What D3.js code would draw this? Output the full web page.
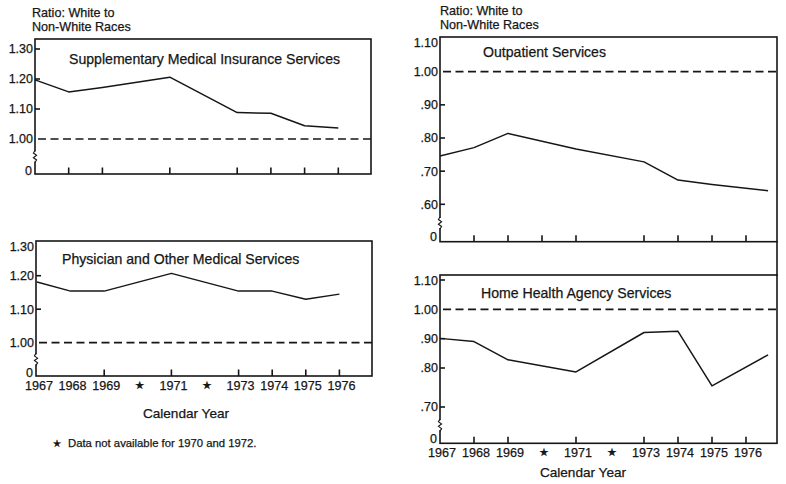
<!DOCTYPE html>
<html><head><meta charset="utf-8">
<script src="https://cdn.jsdelivr.net/npm/d3@7/dist/d3.min.js"></script>
<style>
body{margin:0;background:#fff}
text{font-family:"Liberation Sans",Arial,Helvetica,sans-serif;fill:#161616;stroke:#161616;stroke-width:0.25px}
</style>
</head><body>
<svg id="chart" width="786" height="484"></svg>
<script>
// ---------- data ----------
const yearsLeft  = [1967, 1968, 1969, 1971, 1973, 1974, 1975, 1976];
const yearsRight = [1967, 1968, 1969, 1971, 1973, 1974, 1975, 1976.65];
const smiValues        = [1.197, 1.157, 1.172, 1.206, 1.088, 1.086, 1.044, 1.037];
const physicianValues  = [1.181, 1.154, 1.154, 1.207, 1.154, 1.154, 1.130, 1.145];
const outpatientValues = [0.746, 0.771, 0.814, 0.767, 0.728, 0.673, 0.660, 0.641];
const homeHealthValues = [0.901, 0.890, 0.828, 0.790, 0.921, 0.925, 0.754, 0.845];

const xLabelYears = [1967, 1968, 1969, 1970, 1971, 1972, 1973, 1974, 1975, 1976];
const xLabelTexts = ["1967", "1968", "1969", "\u2605", "1971", "\u2605", "1973", "1974", "1975", "1976"];

const leftTickValues  = [1.30, 1.20, 1.10, 1.00];
const leftTickLabels  = ["1.30", "1.20", "1.10", "1.00"];
const outTickValues   = [1.10, 1.00, 0.90, 0.80, 0.70, 0.60];
const outTickLabels   = ["1.10", "1.00", ".90", ".80", ".70", ".60"];
const homeTickValues  = [1.10, 1.00, 0.90, 0.80, 0.70];
const homeTickLabels  = ["1.10", "1.00", ".90", ".80", ".70"];

const smiXTicks  = [1968, 1969, 1971, 1973, 1974, 1975, 1976];
const physXTicks = [1969, 1971, 1973, 1974, 1975, 1976];
const outXTicks  = [1968, 1969, 1970, 1971, 1973, 1974, 1975, 1976];
const homeXTicks = [1968, 1969, 1971, 1973, 1974, 1975, 1976];

const parityValue = 1.00;
const yAxisTitle = ["Ratio: White to", "Non-White Races"];
const xAxisTitle = "Calendar Year";
const footnote = "Data not available for 1970 and 1972.";

// ---------- layout ----------
const panels = [
  {title: "Supplementary Medical Insurance Services", xs: yearsLeft, ys: smiValues,
   tv: leftTickValues, tl: leftTickLabels, xt: smiXTicks,
   box: {l: 35, r: 371, t: 39, b: 174}, xr: [35, 372], yd: [1.0, 1.2], yr: [139, 79],
   title0: [69, 64], zeroOff: 3, years: null},
  {title: "Physician and Other Medical Services", xs: yearsLeft, ys: physicianValues,
   tv: leftTickValues, tl: leftTickLabels, xt: physXTicks,
   box: {l: 36, r: 372, t: 241, b: 376}, xr: [37, 373], yd: [1.0, 1.2], yr: [342.7, 275.7],
   title0: [62, 264], zeroOff: 3, years: 390, cal: [186, 418]},
  {title: "Outpatient Services", xs: yearsRight, ys: outpatientValues,
   tv: outTickValues, tl: outTickLabels, xt: outXTicks,
   box: {l: 440, r: 777, t: 37, b: 241.7}, xr: [440, 780], yd: [0.6, 1.0], yr: [204.3, 71.7],
   title0: [483, 57], zeroOff: 5, years: null},
  {title: "Home Health Agency Services", xs: yearsRight, ys: homeHealthValues,
   tv: homeTickValues, tl: homeTickLabels, xt: homeXTicks,
   box: {l: 440, r: 777, t: 275, b: 443.3}, xr: [440, 780], yd: [0.7, 0.8, 1.1], yr: [407, 368, 280],
   title0: [481, 297.5], zeroOff: 5, years: 457, cal: [583, 476.5]}
];

const svg = d3.select("#chart");
const ink = "#161616";

panels.forEach(p => {
  const g = svg.append("g");
  const x = d3.scaleLinear().domain([1967, 1977]).range(p.xr);
  const y = d3.scaleLinear().domain(p.yd).range(p.yr);
  const B = p.box;

  // frame
  g.append("rect").attr("x", B.l).attr("y", B.t).attr("width", B.r - B.l).attr("height", B.b - B.t)
    .attr("fill", "none").attr("stroke", ink).attr("stroke-width", 1.6);

  // axis break on left axis
  const bi = (y(d3.min(p.tv)) + B.b) / 2;
  g.append("rect").attr("x", B.l - 2).attr("y", bi - 5).attr("width", 4).attr("height", 10).attr("fill", "#fff");
  g.append("path")
    .attr("d", `M${B.l},${bi-6} L${B.l-1.6},${bi-3.5} L${B.l+1.6},${bi-1.2} L${B.l-1.6},${bi+1.2} L${B.l+1.6},${bi+3.5} L${B.l},${bi+6}`)
    .attr("fill", "none").attr("stroke", ink).attr("stroke-width", 1.1);

  // y ticks (inward) and labels
  p.tv.forEach((v, i) => {
    const yy = y(v);
    if (v !== parityValue && yy > B.t + 3) {
      g.append("line").attr("x1", B.l).attr("x2", B.l + 5).attr("y1", yy).attr("y2", yy)
        .attr("stroke", ink).attr("stroke-width", 1.6);
    }
    g.append("text").attr("x", B.l - 2).attr("y", Math.max(yy, B.t + 6))
      .attr("dy", "0.35em").attr("text-anchor", "end").attr("font-size", 12.5).text(p.tl[i]);
  });
  g.append("text").attr("x", B.l - 3).attr("y", B.b - p.zeroOff)
    .attr("dy", "0.35em").attr("text-anchor", "end").attr("font-size", 12.5).text("0");

  // x ticks (inward)
  p.xt.forEach(t => {
    g.append("line").attr("x1", x(t)).attr("x2", x(t)).attr("y1", B.b).attr("y2", B.b - 6.5)
      .attr("stroke", ink).attr("stroke-width", 1.6);
  });

  // parity dashed line
  g.append("line").attr("x1", B.l + 3).attr("x2", B.r).attr("y1", y(parityValue)).attr("y2", y(parityValue))
    .attr("stroke", ink).attr("stroke-width", 1.7).attr("stroke-dasharray", "8,4.5");

  // series line
  const line = d3.line().x(d => x(d[0])).y(d => y(d[1]));
  g.append("path").datum(p.xs.map((d, i) => [d, p.ys[i]]))
    .attr("d", line).attr("fill", "none").attr("stroke", ink).attr("stroke-width", 1.5)
    .attr("stroke-linejoin", "round");

  // title
  g.append("text").attr("x", p.title0[0]).attr("y", p.title0[1]).attr("font-size", 14.1).text(p.title);

  // year labels
  if (p.years) {
    xLabelYears.forEach((yr, i) => {
      const star = xLabelTexts[i] === "\u2605";
      g.append("text").attr("x", x(yr) + 2).attr("y", p.years + (star ? -1 : 0))
        .attr("text-anchor", "middle").attr("font-size", star ? 11 : 12.6)
        .style("font-family", star ? "DejaVu Sans" : null).text(xLabelTexts[i]);
    });
    g.append("text").attr("x", p.cal[0]).attr("y", p.cal[1]).attr("text-anchor", "middle")
      .attr("font-size", 13.6).text(xAxisTitle);
  }
});

// continuous right border between right panels
svg.append("line").attr("x1", 777).attr("x2", 777).attr("y1", 241).attr("y2", 276)
  .attr("stroke", ink).attr("stroke-width", 1.6);

// y axis titles
[[32, 16.5, 31], [440, 14.5, 29]].forEach(([xx, y1, y2]) => {
  svg.append("text").attr("x", xx).attr("y", y1).attr("font-size", 12.6).text(yAxisTitle[0]);
  svg.append("text").attr("x", xx).attr("y", y2).attr("font-size", 12.6).text(yAxisTitle[1]);
});

// footnote
svg.append("text").attr("x", 57).attr("y", 446.5).attr("text-anchor", "middle")
  .attr("font-size", 10).style("font-family", "DejaVu Sans").text("\u2605");
svg.append("text").attr("x", 68).attr("y", 446.5).attr("font-size", 11.3).text(footnote);
</script>
</body></html>
